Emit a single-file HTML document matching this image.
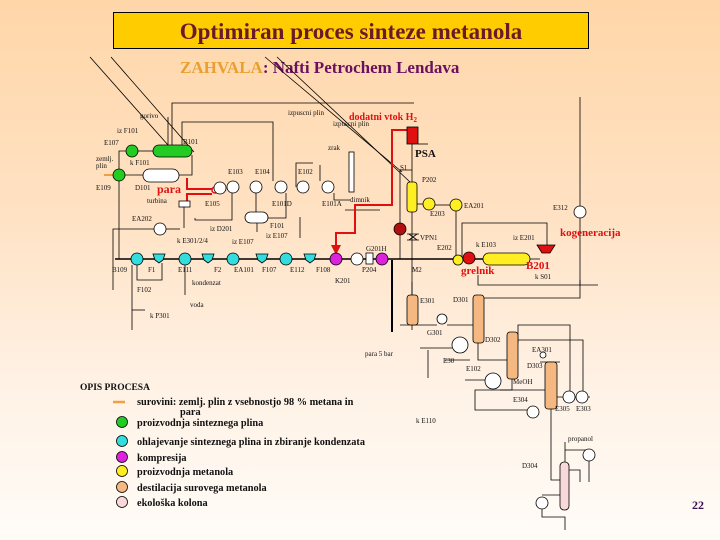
<!DOCTYPE html>
<html><head><meta charset="utf-8"><style>
html,body{margin:0;padding:0;}
body{width:720px;height:540px;overflow:hidden;background:linear-gradient(#FFD6A8 0%,#FFE2C4 40%,#FFF1E4 70%,#FFFCF8 100%);}
svg{position:absolute;left:0;top:0;}
text{font-family:"Liberation Serif",serif;}
.s{font-size:7px;fill:#111;}
</style></head><body>
<svg width="720" height="540" viewBox="0 0 720 540">
<defs>
<marker id="a" markerWidth="5" markerHeight="5" refX="4" refY="2.5" orient="auto"><path d="M0,0L5,2.5L0,5z" fill="#000"/></marker>
<marker id="r" markerWidth="5" markerHeight="5" refX="4" refY="2.5" orient="auto"><path d="M0,0L5,2.5L0,5z" fill="#e01010"/></marker>
</defs>
<rect x="113.5" y="12.5" width="475" height="36" fill="#FFCC00" stroke="#000" stroke-width="1"/>
<text x="351" y="39" text-anchor="middle" font-size="23" font-weight="bold" fill="#6B1A2A">Optimiran proces sinteze metanola</text>
<text x="180" y="73" font-size="17" font-weight="bold" fill="#E8A030">ZAHVALA<tspan fill="#6B1060">: Nafti Petrochem Lendava</tspan></text>

<g stroke="#000" stroke-width="0.8" fill="none">
<line x1="90" y1="57" x2="168" y2="145"/><line x1="111" y1="57" x2="194" y2="152"/>
<line x1="265" y1="57" x2="402" y2="172"/><line x1="277" y1="57" x2="410" y2="182"/>
<polyline points="172,145 172,103 414,103"/>
<polyline points="168,145 168,117"/>
<polyline points="182,145 182,122 273,122 273,181"/>
<polyline points="132,151 119,151 119,259 137,259"/>
<line x1="138" y1="151" x2="153" y2="151"/>
<polyline points="119,175 143,175"/><polyline points="179,175 192,175 192,155"/>
<line x1="104" y1="175" x2="113" y2="175" stroke="#f0a040" stroke-width="2"/>
<polyline points="184,207 184,228"/>
<polyline points="113,290 113,229 154,229"/><line x1="166" y1="229" x2="180" y2="229"/>
<line x1="132" y1="265" x2="132" y2="330"/><line x1="132" y1="310" x2="145" y2="310"/>
<polyline points="137,265 137,280 162,280 162,263"/>
<line x1="185" y1="262" x2="185" y2="295"/>
<polyline points="195,218 195,220 232,220 232,193"/><line x1="256" y1="193" x2="256" y2="212"/>
<polyline points="286,193 286,218 268,218"/><line x1="257" y1="223" x2="257" y2="232"/>
<polyline points="296,187 296,163 313,163"/><polyline points="320,181 320,165"/>
<polyline points="334,193 334,200 350,200"/><line x1="345" y1="210" x2="380" y2="210"/>
<polyline points="300,217 300,238"/>
<line x1="115" y1="259" x2="520" y2="259" stroke-width="1.6"/>
<line x1="412" y1="144" x2="412" y2="182"/><line x1="418" y1="144" x2="428" y2="144"/>
<polyline points="412,170 400,170 400,225"/><line x1="412" y1="212" x2="412" y2="330"/>
<line x1="400" y1="235" x2="400" y2="259"/>
<line x1="417" y1="204" x2="423" y2="204"/><line x1="435" y1="205" x2="450" y2="205"/>
<line x1="456" y1="211" x2="456" y2="255"/>
<polyline points="462,258 462,223 547,223 547,245"/>
<line x1="530" y1="259" x2="540" y2="259"/>
<line x1="580" y1="97" x2="580" y2="206"/><line x1="580" y1="218" x2="580" y2="285"/>
<line x1="392" y1="260" x2="392" y2="332" stroke-width="2"/>
<polyline points="580,280 580,298 478,298 478,295"/>
<polyline points="598,285 478,285 478,275"/>
<line x1="412" y1="282" x2="412" y2="295"/>
<line x1="400" y1="325" x2="437" y2="325"/><line x1="447" y1="325" x2="473" y2="325"/>
<polyline points="478,343 478,360 507,360"/><line x1="445" y1="360" x2="470" y2="360"/>
<line x1="420" y1="348" x2="452" y2="348"/><line x1="428" y1="350" x2="428" y2="378"/>
<polyline points="518,343 518,325 570,325 570,392"/><polyline points="518,340 560,340 583,340 583,392"/>
<polyline points="512,379 512,390 475,390 475,410 530,410"/><line x1="500" y1="390" x2="545" y2="390"/>
<line x1="465" y1="380" x2="485" y2="380"/>
<line x1="557" y1="397" x2="590" y2="397"/>
<polyline points="551,409 551,480 560,480"/>
<polyline points="565,462 565,442"/><polyline points="565,450 589,450"/><polyline points="589,461 589,482"/>
<polyline points="565,470 580,470 580,482"/>
<polyline points="560,495 542,495"/><polyline points="542,509 542,517 565,517 565,530"/>
<line x1="548" y1="400" x2="548" y2="362"/><line x1="540" y1="362" x2="560" y2="362"/>
</g>

<g stroke="#e01010" stroke-width="2" fill="none">
<polyline points="407,130 392,130 392,205 355,205 355,233 336,233 336,253" marker-end="url(#r)"/>
<polyline points="212,189 187,189 187,178"/><polyline points="212,194 192,194 187,194 187,204"/>
</g>

<g stroke="#000" stroke-width="0.8">
<rect x="153" y="145" width="39" height="12" rx="6" fill="#22CC22"/>
<circle cx="132" cy="151" r="6" fill="#22CC22"/>
<circle cx="119" cy="175" r="6" fill="#22CC22"/>
<rect x="143" y="169" width="36" height="13" rx="6.5" fill="#fff"/>
<circle cx="215" cy="190" r="3" fill="#fff" stroke="#e01010" stroke-width="1.5"/>
<circle cx="220" cy="188" r="6" fill="#fff"/>
<circle cx="233" cy="187" r="6" fill="#fff"/><circle cx="256" cy="187" r="6" fill="#fff"/>
<circle cx="281" cy="187" r="6" fill="#fff"/><circle cx="303" cy="187" r="6" fill="#fff"/>
<circle cx="328" cy="187" r="6" fill="#fff"/>
<rect x="349" y="152" width="5" height="40" fill="#fff"/>
<rect x="245" y="212" width="23" height="11" rx="5.5" fill="#fff"/>
<rect x="179" y="201" width="11" height="6" fill="#fff"/>
<circle cx="160" cy="229" r="6" fill="#fff"/>
<circle cx="137" cy="259" r="6" fill="#33DDDD"/><circle cx="185" cy="259" r="6" fill="#33DDDD"/>
<circle cx="233" cy="259" r="6" fill="#33DDDD"/><circle cx="286" cy="259" r="6" fill="#33DDDD"/>
<path d="M153,254h12l-2,6l-4,3l-4,-3z" fill="#33DDDD"/><path d="M202,254h12l-2,6l-4,3l-4,-3z" fill="#33DDDD"/>
<path d="M256,254h12l-2,6l-4,3l-4,-3z" fill="#33DDDD"/><path d="M304,254h12l-2,6l-4,3l-4,-3z" fill="#33DDDD"/>
<circle cx="336" cy="259" r="6" fill="#DD22DD"/>
<circle cx="357" cy="259" r="6" fill="#fff"/><rect x="366" y="253" width="7" height="11" fill="#fff"/>
<circle cx="382" cy="259" r="6" fill="#DD22DD"/>
<rect x="407" y="127" width="11" height="17" fill="#E01010"/>
<rect x="407" y="182" width="10" height="30" rx="3" fill="#FFEE22"/>
<circle cx="429" cy="204" r="6" fill="#FFEE22"/><circle cx="456" cy="205" r="6" fill="#FFEE22"/>
<circle cx="400" cy="229" r="6" fill="#B01010"/>
<path d="M407,234h12M407,240h12M409,234l8,6M417,234l-8,6" fill="none"/>
<circle cx="458" cy="260" r="5" fill="#FFEE22"/><circle cx="469" cy="258" r="6" fill="#E01010"/>
<rect x="483" y="253" width="47" height="12" rx="6" fill="#FFEE22"/>
<path d="M537,245h18l-5,8h-8z" fill="#E01010"/>
<circle cx="580" cy="212" r="6" fill="#fff"/>
<rect x="407" y="295" width="11" height="30" rx="3" fill="#F5B880"/>
<circle cx="442" cy="319" r="5" fill="#fff"/>
<rect x="473" y="295" width="11" height="48" rx="3" fill="#F5B880"/>
<circle cx="460" cy="345" r="8" fill="#fff"/>
<rect x="507" y="332" width="11" height="47" rx="3" fill="#F5B880"/>
<circle cx="543" cy="355" r="3" fill="#fff"/>
<rect x="545" y="362" width="12" height="47" rx="3" fill="#F5B880"/>
<circle cx="493" cy="381" r="8" fill="#fff"/>
<circle cx="533" cy="412" r="6" fill="#fff"/>
<circle cx="569" cy="397" r="6" fill="#fff"/><circle cx="582" cy="397" r="6" fill="#fff"/>
<rect x="560" y="462" width="9" height="48" rx="4" fill="#F8D8D8"/>
<circle cx="589" cy="455" r="6" fill="#fff"/><circle cx="542" cy="503" r="6" fill="#fff"/>
</g>

<text x="349" y="120" font-size="10" font-weight="bold" fill="#e01010">dodatni vtok H<tspan font-size="7" dy="2">2</tspan></text>
<text x="415" y="157" font-size="11" font-weight="bold" fill="#111">PSA</text>
<text x="157" y="193" font-size="12" font-weight="bold" fill="#e01010">para</text>
<text x="461" y="274" font-size="11" font-weight="bold" fill="#e01010">grelnik</text>
<text x="526" y="269" font-size="11" font-weight="bold" fill="#e01010">B201</text>
<text x="560" y="236" font-size="11" font-weight="bold" fill="#e01010">kogeneracija</text>

<g class="s">
<text x="140" y="118" class="s">gorivo</text><text x="117" y="133" class="s">iz F101</text>
<text x="104" y="145" class="s">E107</text><text x="183" y="144" class="s">B101</text>
<text x="96" y="161" class="s">zemlj.</text><text x="96" y="168" class="s">plin</text>
<text x="130" y="165" class="s">k F101</text><text x="96" y="190" class="s">E109</text>
<text x="135" y="190" class="s">D101</text><text x="147" y="203" class="s">turbina</text>
<text x="288" y="115" class="s">izpuscni plin</text><text x="333" y="126" class="s">izpuscni plin</text>
<text x="328" y="150" class="s">zrak</text><text x="228" y="174" class="s">E103</text>
<text x="255" y="174" class="s">E104</text><text x="298" y="174" class="s">E102</text>
<text x="205" y="206" class="s">E105</text><text x="272" y="206" class="s">E101D</text>
<text x="322" y="206" class="s">E101A</text><text x="350" y="202" class="s">dimnik</text>
<text x="270" y="228" class="s">F101</text><text x="210" y="231" class="s">iz D201</text>
<text x="266" y="238" class="s">iz E107</text><text x="232" y="244" class="s">iz E107</text>
<text x="132" y="221" class="s">EA202</text><text x="177" y="243" class="s">k E301/2/4</text>
<text x="112" y="272" class="s">B109</text><text x="148" y="272" class="s">F1</text>
<text x="178" y="272" class="s">E111</text><text x="214" y="272" class="s">F2</text>
<text x="234" y="272" class="s">EA101</text><text x="262" y="272" class="s">F107</text>
<text x="290" y="272" class="s">E112</text><text x="316" y="272" class="s">F108</text>
<text x="335" y="283" class="s">K201</text><text x="362" y="272" class="s">P204</text>
<text x="366" y="251" class="s">G201H</text><text x="137" y="292" class="s">F102</text>
<text x="192" y="285" class="s">kondenzat</text><text x="190" y="307" class="s">voda</text>
<text x="150" y="318" class="s">k P301</text><text x="400" y="170" class="s">S1</text>
<text x="422" y="182" class="s">P202</text><text x="430" y="216" class="s">E203</text>
<text x="464" y="208" class="s">EA201</text><text x="420" y="240" class="s">VPN1</text>
<text x="437" y="250" class="s">E202</text><text x="476" y="247" class="s">k E103</text>
<text x="513" y="240" class="s">iz E201</text><text x="412" y="272" class="s">M2</text>
<text x="553" y="210" class="s">E312</text><text x="535" y="279" class="s">k S01</text>
<text x="420" y="303" class="s">E301</text><text x="453" y="302" class="s">D301</text>
<text x="427" y="335" class="s">G301</text><text x="485" y="342" class="s">D302</text>
<text x="443" y="363" class="s">E30</text><text x="466" y="371" class="s">E102</text>
<text x="365" y="356" class="s">para 5 bar</text><text x="532" y="352" class="s">EA301</text>
<text x="527" y="368" class="s">D303</text><text x="513" y="384" class="s">MeOH</text>
<text x="513" y="402" class="s">E304</text><text x="555" y="411" class="s">E305</text>
<text x="576" y="411" class="s">E303</text><text x="416" y="423" class="s">k E110</text>
<text x="568" y="441" class="s">propanol</text><text x="522" y="468" class="s">D304</text>
</g>

<text x="80" y="390" font-size="9.5" font-weight="bold" fill="#111">OPIS PROCESA</text>
<line x1="113" y1="402" x2="125" y2="402" stroke="#f0a040" stroke-width="2.5"/>
<g font-size="10.3" font-weight="bold" fill="#111">
<text x="137" y="405">surovini: zemlj. plin z vsebnostjo 98 % metana in</text>
<text x="180" y="415">para</text>
<text x="137" y="426">proizvodnja sinteznega plina</text>
<text x="137" y="445">ohlajevanje sinteznega plina in zbiranje kondenzata</text>
<text x="137" y="461">kompresija</text>
<text x="137" y="475">proizvodnja metanola</text>
<text x="137" y="491">destilacija surovega metanola</text>
<text x="137" y="506">ekološka kolona</text>
</g>
<g stroke="#000" stroke-width="0.8">
<circle cx="122" cy="422" r="5.5" fill="#22CC22"/><circle cx="122" cy="441" r="5.5" fill="#33DDDD"/>
<circle cx="122" cy="457" r="5.5" fill="#DD22DD"/><circle cx="122" cy="471" r="5.5" fill="#FFEE22"/>
<circle cx="122" cy="487" r="5.5" fill="#F5B880"/><circle cx="122" cy="502" r="5.5" fill="#F8D8D8"/>
</g>
<text x="692" y="509" font-size="12" font-weight="bold" fill="#3A1050" font-family="Liberation Sans, sans-serif">22</text>
</svg>
</body></html>
